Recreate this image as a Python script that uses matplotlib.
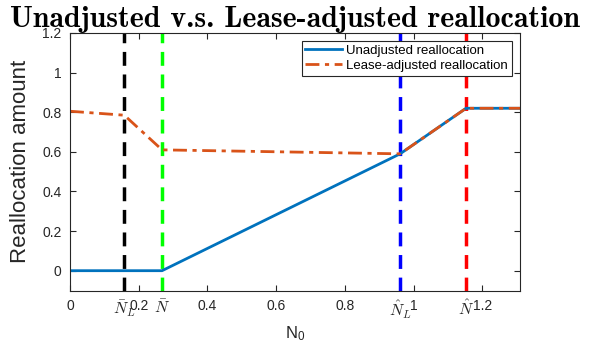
import matplotlib
matplotlib.use("Agg")
import matplotlib.pyplot as plt
import numpy as np

# Data
unadj_x = [0.0, 0.268, 0.961, 1.153, 1.31]
unadj_y = [0.0, 0.0, 0.59, 0.82, 0.82]
lease_x = [0.0, 0.158, 0.268, 0.961, 1.153, 1.31]
lease_y = [0.805, 0.785, 0.61, 0.59, 0.82, 0.82]
vlines_x = [0.158, 0.268, 0.961, 1.153]
vline_colors = ["black", "#00ff00", "blue", "red"]
xtick_vals = [0, 0.158, 0.2, 0.268, 0.4, 0.6, 0.8, 0.961, 1.0, 1.153, 1.2]
xtick_labels = ["0", r"$\bar{N}_L$", "0.2", r"$\bar{N}$", "0.4", "0.6", "0.8",
                r"$\hat{N}_L$", "1", r"$\hat{N}$", "1.2"]
yticks = [0, 0.2, 0.4, 0.6, 0.8, 1.0, 1.2]
ytick_labels = ["0", "0.2", "0.4", "0.6", "0.8", "1", "1.2"]

plt.rcParams['font.family'] = ['Liberation Sans', 'DejaVu Sans']
plt.rcParams['mathtext.fontset'] = 'cm'

fig = plt.figure(figsize=(5.9, 3.45), dpi=100)
ax = fig.add_axes([70/590, 1-290.5/345, 450/590, 257.5/345])

for xv, c in zip(vlines_x, vline_colors):
    ax.axvline(xv, color=c, lw=2.5, ls=(0, (4, 2.5)))

ax.plot(unadj_x, unadj_y, color="#0072BD", lw=2, label="Unadjusted reallocation")
ax.plot(lease_x, lease_y, color="#D95319", lw=2, ls=(0, (5, 2, 1.5, 2)),
        label="Lease-adjusted reallocation")

ax.set_xlim(0, 1.31)
ax.set_ylim(-0.1, 1.2)
ax.set_xticks(xtick_vals)
ax.set_xticklabels(xtick_labels)
ax.set_yticks(yticks)
ax.set_yticklabels(ytick_labels)
for lab in ax.get_xticklabels():
    if lab.get_text().startswith("$"):
        lab.set_fontsize(11.5)
    else:
        lab.set_fontsize(10)
ax.tick_params(axis='y', labelsize=10)
ax.tick_params(direction='in', top=True, right=True, length=4, width=0.8, colors='#262626',
               labelcolor='#262626', pad=6)
for t, v in zip(ax.xaxis.get_major_ticks(), xtick_vals):
    if v in vlines_x:
        t.tick1line.set_visible(False)
        t.tick2line.set_visible(False)
for s in ax.spines.values():
    s.set_color('#262626')
    s.set_linewidth(0.8)

ax.set_xlabel(r"N$_\mathregular{0}$", fontsize=12, color='#262626', labelpad=2)
ax.set_ylabel("Reallocation amount", fontsize=16, color='#262626', labelpad=8)
ax.set_title("Unadjusted v.s. Lease-adjusted reallocation", fontsize=21.5,
             family='cmb10', pad=4)

leg = ax.legend(loc='upper right', fontsize=9.5, frameon=True, fancybox=False,
                framealpha=1, edgecolor='#262626', borderpad=0.3, labelspacing=0.2,
                handlelength=2.8, handletextpad=0.3, borderaxespad=0.6)
leg.get_frame().set_linewidth(0.8)
leg.set_zorder(10)

fig.savefig("out.png", dpi=100)
